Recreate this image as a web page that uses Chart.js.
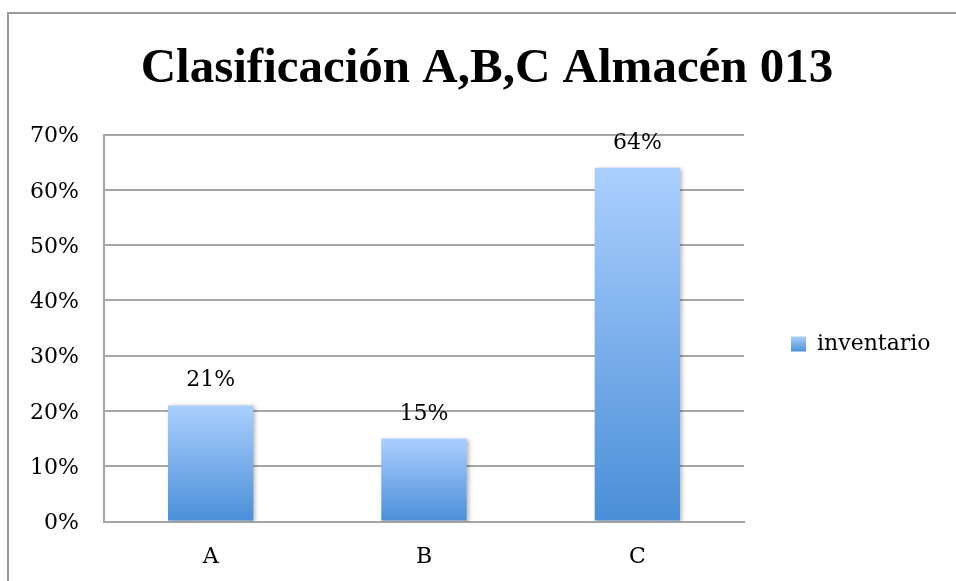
<!DOCTYPE html>
<html>
<head>
<meta charset="utf-8">
<script src="https://cdn.jsdelivr.net/npm/chart.js@4"></script>
<style>
  html, body { margin: 0; padding: 0; background: #fff; overflow: hidden; }
  canvas { display: block; }
</style>
</head>
<body>
<canvas id="chart" width="956" height="581"></canvas>
<script>
// Chart content
const titleText = 'Clasificación A,B,C Almacén 013';
const categories = ['A', 'B', 'C'];
const seriesName = 'inventario';
const inventario = [21, 15, 64];          // percent of inventory per class
const yTickValues = [0, 10, 20, 30, 40, 50, 60, 70];
const yTickLabels = ['0%', '10%', '20%', '30%', '40%', '50%', '60%', '70%'];

const TITLE_FONT = '"Liberation Serif", "Times New Roman", serif';
const FONT = '"DejaVu Serif", serif';
const FONT_SIZE = 22;
const GRID = '#a6a6a6';
const BAR_TOP = '#abcffe';
const BAR_BOTTOM = '#4a8fd8';

// Layout numbers
const padLeft = 20;
const padRight = 2;
const plotLeft = 104;
const plotRight = 744;
const plotBottom = 521.5;
const legendSwatchX = 791;
const legendCenterY = 344;

// Legend spacing: size the gap so the plot ends at plotRight
const mctx = document.createElement('canvas').getContext('2d');
mctx.font = FONT_SIZE + 'px ' + FONT;
const legendItemW = 15 + FONT_SIZE / 2 + mctx.measureText(seriesName).width;
const legendPad = Math.max(10, 956 - padRight - plotRight - 10 - legendItemW);

function verticalGradient(c, top, bottom) {
  const g = c.createLinearGradient(0, top, 0, bottom);
  g.addColorStop(0, BAR_TOP);
  g.addColorStop(1, BAR_BOTTOM);
  return g;
}

function barGradient(ctx) {
  if (ctx.type !== 'data') return '#7fb2ee';
  const chart = ctx.chart;
  const y = chart.scales.y;
  if (!chart.chartArea || !y) return '#7fb2ee';
  return verticalGradient(chart.ctx, y.getPixelForValue(ctx.raw), y.getPixelForValue(0));
}

// Frame around the whole chart
const framePlugin = {
  id: 'frame',
  beforeDraw(chart) {
    const c = chart.ctx;
    c.save();
    c.strokeStyle = '#9a9a9a';
    c.lineWidth = 2;
    c.strokeRect(8, 13, 1200, 1200);
    c.restore();
  }
};

// Place the legend beside the plot, and give its swatch the bar gradient
const legendPlacement = {
  id: 'legendPlacement',
  afterLayout(chart) {
    const lg = chart.legend;
    if (!lg) return;
    const dx = legendSwatchX - (lg.left + legendPad);
    const dy = legendCenterY - (lg.top + lg.bottom) / 2;
    lg.left += dx; lg.right += dx;
    lg.top += dy; lg.bottom += dy;
  },
  afterUpdate(chart) {
    const lg = chart.legend;
    if (!lg || !lg.legendItems || !lg.legendItems.length) return;
    const hb = lg.legendHitBoxes && lg.legendHitBoxes[0];
    const mid = hb ? hb.top + hb.height / 2 : legendCenterY;
    lg.legendItems[0].fillStyle = verticalGradient(chart.ctx, mid - 7.5, mid + 7.5);
  }
};

// Soft shadow under the bars, plus value labels above them
const barExtras = {
  id: 'barExtras',
  beforeDatasetsDraw(chart) {
    const c = chart.ctx;
    c.save();
    c.shadowColor = 'rgba(0,0,0,0.28)';
    c.shadowBlur = 4;
    c.shadowOffsetX = 2;
    c.shadowOffsetY = 1;
  },
  afterDatasetsDraw(chart) {
    const c = chart.ctx;
    c.restore();
    c.save();
    c.font = FONT_SIZE + 'px ' + FONT;
    c.fillStyle = '#000';
    c.textAlign = 'center';
    c.textBaseline = 'alphabetic';
    const meta = chart.getDatasetMeta(0);
    meta.data.forEach((el, i) => {
      const v = chart.data.datasets[0].data[i];
      c.fillText(v + '%', el.x, el.y - 19);
    });
    c.restore();
  }
};

new Chart(document.getElementById('chart'), {
  type: 'bar',
  data: {
    labels: categories,
    datasets: [{
      label: seriesName,
      data: inventario,
      backgroundColor: barGradient,
      borderWidth: 0,
      barPercentage: 0.4,
      categoryPercentage: 1.0
    }]
  },
  options: {
    responsive: false,
    animation: false,
    events: [],
    devicePixelRatio: 1,
    layout: { padding: { left: padLeft, right: padRight, top: 0, bottom: 0 } },
    plugins: {
      title: {
        display: true,
        text: titleText,
        color: '#000',
        font: { family: TITLE_FONT, size: 49, weight: 'bold', lineHeight: 1.2 },
        padding: { top: 40, bottom: 35.7 }
      },
      legend: {
        position: 'right',
        labels: {
          color: '#000',
          font: { family: FONT, size: FONT_SIZE },
          boxWidth: 15,
          boxHeight: 15,
          padding: legendPad
        }
      },
      tooltip: { enabled: false }
    },
    scales: {
      x: {
        grid: { display: false, drawTicks: false },
        border: { display: true, color: GRID, width: 2 },
        ticks: { color: '#000', font: { family: FONT, size: FONT_SIZE }, padding: 23 },
        afterFit(scale) { scale.height = 581 - plotBottom; }
      },
      y: {
        min: 0,
        max: 70,
        grid: { color: GRID, lineWidth: 2, drawTicks: false },
        border: { display: true, color: GRID, width: 2 },
        ticks: {
          stepSize: 10,
          color: '#000',
          font: { family: FONT, size: FONT_SIZE },
          padding: 25,
          labelOffset: 2,
          callback(value) {
            const i = yTickValues.indexOf(Math.round(value));
            return i >= 0 ? yTickLabels[i] : '';
          }
        },
        afterFit(scale) { scale.width = plotLeft - padLeft; }
      }
    }
  },
  plugins: [framePlugin, legendPlacement, barExtras]
});
</script>
</body>
</html>
